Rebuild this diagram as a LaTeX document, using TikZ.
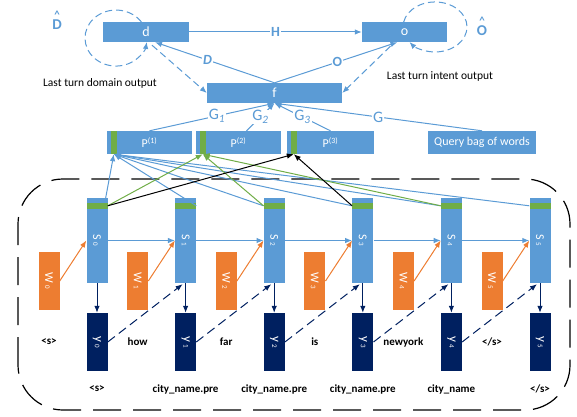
\documentclass[tikz,border=0pt]{standalone}
\usepackage{fontspec}
\setmainfont{Carlito}
\usetikzlibrary{arrows.meta,calc}
\definecolor{lblue}{HTML}{5B9BD5}
\definecolor{lgreen}{HTML}{70AD47}
\definecolor{lorange}{HTML}{ED7D31}
\definecolor{dnavy}{HTML}{002060}
\newcommand{\hatted}[1]{\ooalign{#1\cr\hidewidth\raisebox{0.75em}{\fontsize{11}{11}\selectfont\textasciicircum}\hidewidth\cr}}
\newcommand{\sub}[1]{\,{\fontsize{7}{7}\selectfont #1}}

\begin{document}
\begin{tikzpicture}[x=1pt,y=1pt,
    >={Latex[length=7pt,width=5.5pt]},
    box/.style={fill=lblue,text=white,inner sep=0pt,minimum height=20pt,font=\fontsize{14}{14}\selectfont},
    pbox/.style={fill=lblue,text=white,inner sep=0pt,minimum height=23pt,font=\fontsize{12}{12}\selectfont},
    sbox/.style={fill=lblue,text=white,inner sep=0pt,minimum width=21pt,minimum height=85pt,font=\fontsize{12}{12}\selectfont},
    wbox/.style={fill=lorange,text=white,inner sep=0pt,minimum width=21pt,minimum height=58pt,font=\fontsize{12}{12}\selectfont},
    ybox/.style={fill=dnavy,text=white,inner sep=0pt,minimum width=21pt,minimum height=58pt,font=\fontsize{13}{13}\selectfont},
    stripe/.style={fill=lgreen,inner sep=0pt},
    bline/.style={lblue,line width=1pt},
    bdash/.style={lblue,line width=1pt,dash pattern=on 7pt off 4pt},
    glabel/.style={text=lblue,fill=white,inner sep=1pt,font=\fontsize{16}{16}\selectfont},
    hlabel/.style={text=lblue,fill=white,inner sep=1pt,font=\fontsize{14}{14}\selectfont\bfseries},
    hatlabel/.style={text=lblue,font=\fontsize{15}{15}\selectfont\bfseries},
    word/.style={font=\fontsize{11}{12}\selectfont\bfseries},
    note/.style={font=\fontsize{11.5}{12}\selectfont}]

\useasboundingbox (0,0) rectangle (577,416);

%loops behind the top boxes:
\draw[bdash,->] (103+38.4,394) arc[start angle=35,end angle=352,x radius=31,y radius=28];
\draw[bdash,->] (362+41.6,393.8) arc[start angle=169,end angle=-143,x radius=32,y radius=25];

%top boxes:
\node[box,minimum width=86pt] (d) at (146,384) {d};
\node[box,minimum width=85pt] (o) at (404.5,384) {o};
\node[box,minimum width=135pt] (f) at (274.5,323) {f};
\node[hatlabel] (dhat) at (57,391) {\hatted{D}};
\node[hatlabel] (ohat) at (482,385) {\hatted{O}};
\node[note] (dnote) at (100,333) {Last turn domain output};
\node[note] (onote) at (440,340) {Last turn intent output};

\draw[bline,->] (d) -- node[hlabel] {H} (o);
\draw[bline,->] (f.north) -- node[hlabel,pos=.56] {\textit{D}} ($(d.south)+(9,0)$);
\draw[bline,->] (f.north) -- node[hlabel,pos=.51] {O} ($(o.south)+(-7,0)$);
\draw[bdash,->] ($(d.south)+(6,-3)$) -- (f.west);
\draw[bdash,->] ($(o.south)+(-14,-4)$) -- (f.east);

%pooling boxes:
\node[pbox,minimum width=85pt] (p1) at (149.5,273.5) {P\textsuperscript{(1)}};
\node[pbox,minimum width=85pt] (p2) at (238.5,273.5) {P\textsuperscript{(2)}};
\node[pbox,minimum width=87pt] (p3) at (330.5,273.5) {P\textsuperscript{(3)}};
\node[pbox,minimum width=108pt] (bow) at (482,273.5) {Query bag of words};
\foreach \k in {1,2,3}
    \node[stripe,minimum width=6pt,minimum height=23pt] (pg\k) at ($(p\k.west)+(7,0)$) {};

\draw[bline,->] (p1.north) -- node[glabel,pos=.54] {G\textsubscript{\textit{1}}} (f.south);
\draw[bline,->] ($(p2.north)+(8,0)$) -- node[glabel,pos=.5] {G\textsubscript{\textit{2}}} (f.south);
\draw[bline,->] (p3.north) -- node[glabel,pos=.5] {G\textsubscript{\textit{3}}} (f.south);
\draw[bline,->] (bow.north) -- node[glabel,pos=.5] {G} (f.south);

%dashed frame round the tagger:
\draw[line width=1.2pt,dash pattern=on 28pt off 12pt,rounded corners=45pt] (18,6) rectangle (570,237);

%columns:
\foreach \i/\w/\t in {0/{<s>}/{<s>},1/how/{city\_name.pre},2/far/{city\_name.pre},3/is/{city\_name.pre},4/newyork/{city\_name},5/{</s>}/{</s>}}{
    \pgfmathsetmacro\cx{97+88.6*\i}
    \node[sbox] (s\i) at (\cx,175.5) {\rotatebox{-90}{S\sub{\i}}};
    \node[stripe,minimum width=21pt,minimum height=6pt] (g\i) at ($(s\i.north)+(0,-8)$) {};
    \node[wbox] (w\i) at (\cx-48,135) {\rotatebox{-90}{W\sub{\i}}};
    \node[ybox] (y\i) at (\cx,74) {\rotatebox{-90}{y\sub{\i}}};
    \node[word] (in\i) at (\cx-48,74) {\w};
    \node[word] (tag\i) at (\cx,27) {\t};
    \draw[lorange,line width=1pt,->] (w\i.east) -- (s\i.west);
    \draw[dnavy,line width=1pt,->] (s\i.south) -- (y\i.north);
}
\foreach \i/\j in {0/1,1/2,2/3,3/4,4/5}{
    \draw[bline,->] (s\i.east) -- (s\j.west);
    \draw[dnavy,line width=1pt,dash pattern=on 9pt off 5pt,->] (y\i.east) -- ($(s\j.south)+(-3,-1)$);
}

%attention:
\draw[bline,->] ($(s0.north east)+(-2,0)$) -- (pg1.south);
\draw[bline,->] (g1.east) -- (pg1.south);
\foreach \i in {2,...,5}
    \draw[bline,->] (g\i.west) -- (pg1.south);
\foreach \i in {2,4}
    \draw[lgreen,line width=1pt,->] (g\i.west) -- (pg2.south);
\draw[lgreen,line width=1pt,->] (g0.east) -- (pg2.south);
\draw[black,line width=1pt,->] (g0.east) -- (pg3.south);
\draw[black,line width=1pt,->] (g3.west) -- (pg3.south);

\end{tikzpicture}
\end{document}
